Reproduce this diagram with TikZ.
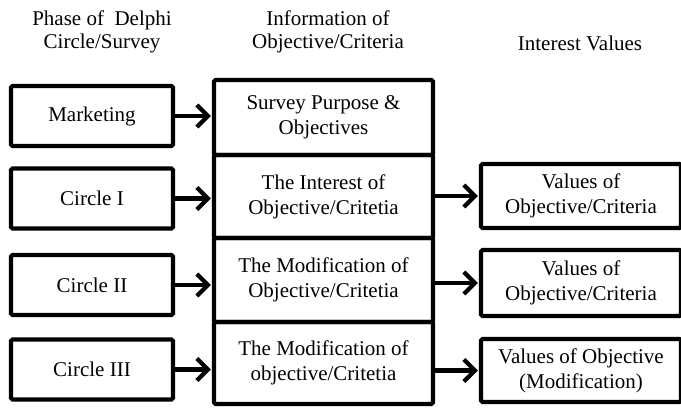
\documentclass[tikz,border=0pt]{standalone}
\usepackage{fontspec}
\setmainfont{Liberation Serif}
\usetikzlibrary{arrows.meta}
\tikzset{
  box/.style={draw=black, line width=4.2pt, rounded corners=1.5pt, align=center,
    inner sep=0pt, font=\fontsize{21}{25}\selectfont},
  lbox/.style={box, minimum width=162pt, minimum height=60pt},
  mbox/.style={box, minimum width=219pt},
  rbox/.style={box, minimum width=200pt},
  head/.style={align=center, inner sep=0pt, font=\fontsize{21}{23}\selectfont},
  arr/.style={line width=4.2pt, -{Straight Barb[length=11pt,width=22pt,line width=4.2pt]}, shorten >=1pt}
}
\begin{document}
\begin{tikzpicture}[x=1pt,y=-1pt]
\useasboundingbox (0,0) rectangle (681,408);
% headers
\node[head] (h1) at (102,31.5) {Phase of\ \ Delphi\\Circle/Survey};
\node[head] (h2) at (328,31.5) {Information of\\Objective/Criteria};
\node[head] (h3) at (580,43) {Interest Values};
% left boxes
\node[lbox] (l1) at (92,116) {Marketing};
\node[lbox] (l2) at (92,198.5) {Circle I};
\node[lbox] (l3) at (92,285) {Circle II};
\node[lbox] (l4) at (92,369.5) {Circle III};
% middle boxes
\node[mbox, minimum height=75pt] (m1) at (323.5,117.5) {Survey Purpose \&\\Objectives};
\node[mbox, minimum height=83pt] (m2) at (323.5,196.5) {The Interest of\\Objective/Critetia};
\node[mbox, minimum height=84pt] (m3) at (323.5,280) {The Modification of\\Objective/Critetia};
\node[mbox, minimum height=82pt] (m4) at (323.5,363) {The Modification of\\objective/Critetia};
% right boxes
\node[rbox, minimum height=64pt] (r1) at (581,196) {Values of\\Objective/Criteria};
\node[rbox, minimum height=66pt] (r2) at (581,283) {Values of\\Objective/Criteria};
\node[rbox, minimum height=63pt] (r3) at (581,370.5) {Values of Objective\\(Modification)};
% arrows left -> middle
\draw[arr] (l1.east) -- (l1.east -| m1.west);
\draw[arr] (l2.east) -- (l2.east -| m2.west);
\draw[arr] (l3.east) -- (l3.east -| m3.west);
\draw[arr] (l4.east) -- (l4.east -| m4.west);
% arrows middle -> right
\draw[arr] (m2.east |- r1.west) -- (r1.west);
\draw[arr] (m3.east |- r2.west) -- (r2.west);
\draw[arr] (m4.east |- r3.west) -- (r3.west);
\end{tikzpicture}
\end{document}
